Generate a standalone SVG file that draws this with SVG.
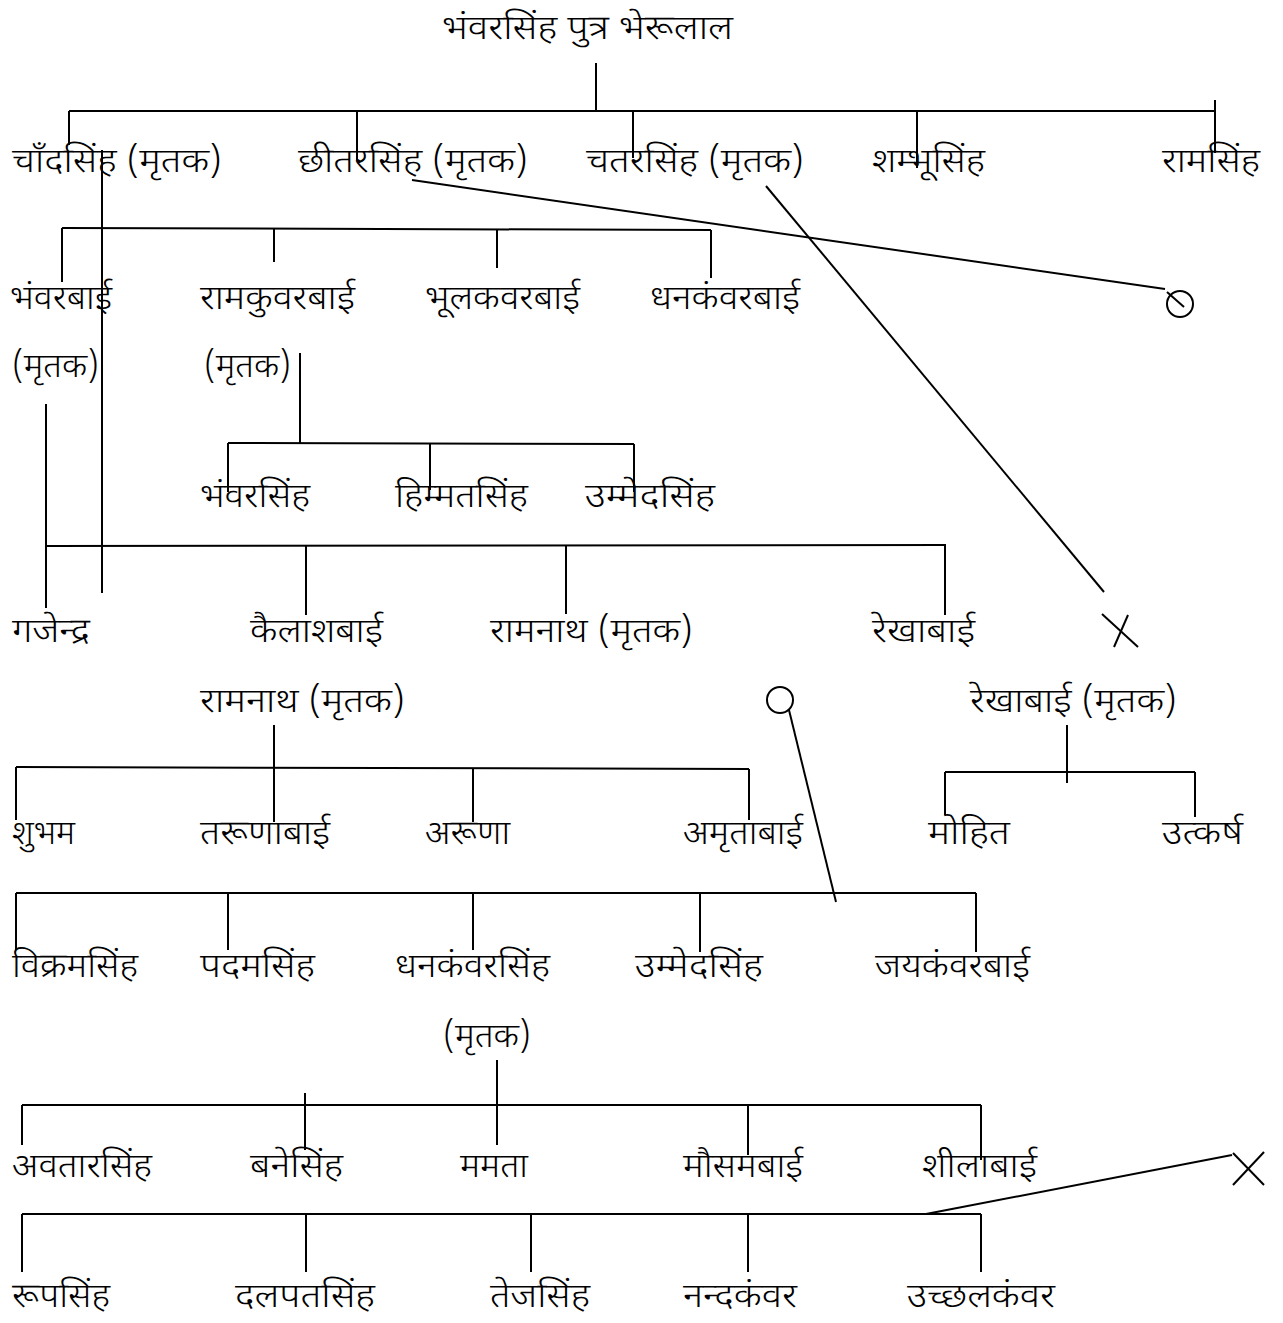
<svg xmlns="http://www.w3.org/2000/svg" width="1283" height="1323" viewBox="0 0 1283 1323">
<style>
text{font-family:"Noto Sans Devanagari","Noto Sans","Liberation Sans",sans-serif;font-size:34px;font-weight:300;fill:#000}
.c line,.c circle{stroke:#000;stroke-width:2;fill:none}
</style>
<rect width="1283" height="1323" fill="#fff"/>
<g class="c" id="connectors">
<line x1="596" y1="63" x2="596" y2="112"/>
<line x1="69" y1="111" x2="1216" y2="111"/>
<line x1="69" y1="111" x2="69" y2="145"/>
<line x1="357" y1="111" x2="357" y2="160"/>
<line x1="633" y1="111" x2="633" y2="158"/>
<line x1="917" y1="111" x2="917" y2="168"/>
<line x1="1215" y1="100" x2="1215" y2="153"/>
<line x1="102" y1="150" x2="102" y2="593"/>
<line x1="412" y1="180" x2="1165" y2="289"/>
<circle cx="1180" cy="304" r="13"/>
<line x1="1167" y1="292" x2="1184" y2="307"/>
<line x1="766" y1="186" x2="1104" y2="592"/>
<line x1="1102" y1="614" x2="1138" y2="647"/>
<line x1="1128" y1="615" x2="1114" y2="647"/>
<line x1="62" y1="228" x2="711" y2="230"/>
<line x1="62" y1="228" x2="62" y2="282"/>
<line x1="274" y1="228" x2="274" y2="262"/>
<line x1="497" y1="229" x2="497" y2="268"/>
<line x1="711" y1="230" x2="711" y2="278"/>
<line x1="300" y1="353" x2="300" y2="443"/>
<line x1="228" y1="443" x2="634" y2="444"/>
<line x1="228" y1="443" x2="228" y2="492"/>
<line x1="430" y1="443" x2="430" y2="490"/>
<line x1="634" y1="444" x2="634" y2="492"/>
<line x1="46" y1="404" x2="46" y2="608"/>
<line x1="46" y1="546" x2="946" y2="545"/>
<line x1="306" y1="546" x2="306" y2="615"/>
<line x1="566" y1="546" x2="566" y2="614"/>
<line x1="945" y1="545" x2="945" y2="615"/>
<line x1="274" y1="725" x2="274" y2="822"/>
<line x1="16" y1="767" x2="749" y2="769"/>
<line x1="16" y1="767" x2="16" y2="820"/>
<line x1="473" y1="768" x2="473" y2="822"/>
<line x1="749" y1="769" x2="749" y2="820"/>
<circle cx="780" cy="700" r="13"/>
<line x1="789" y1="710" x2="836" y2="902"/>
<line x1="1067" y1="725" x2="1067" y2="783"/>
<line x1="945" y1="772" x2="1195" y2="772"/>
<line x1="945" y1="772" x2="945" y2="815"/>
<line x1="1195" y1="772" x2="1195" y2="817"/>
<line x1="16" y1="893" x2="976" y2="893"/>
<line x1="16" y1="893" x2="16" y2="950"/>
<line x1="228" y1="893" x2="228" y2="950"/>
<line x1="473" y1="893" x2="473" y2="950"/>
<line x1="700" y1="893" x2="700" y2="952"/>
<line x1="976" y1="893" x2="976" y2="952"/>
<line x1="497" y1="1060" x2="497" y2="1145"/>
<line x1="22" y1="1105" x2="981" y2="1105"/>
<line x1="305" y1="1093" x2="305" y2="1150"/>
<line x1="22" y1="1105" x2="22" y2="1145"/>
<line x1="748" y1="1105" x2="748" y2="1155"/>
<line x1="981" y1="1105" x2="981" y2="1160"/>
<line x1="22" y1="1214" x2="981" y2="1214"/>
<line x1="22" y1="1214" x2="22" y2="1272"/>
<line x1="306" y1="1214" x2="306" y2="1272"/>
<line x1="531" y1="1214" x2="531" y2="1272"/>
<line x1="748" y1="1214" x2="748" y2="1272"/>
<line x1="981" y1="1214" x2="981" y2="1272"/>
<line x1="926" y1="1214" x2="1232" y2="1155"/>
<line x1="1233" y1="1153" x2="1264" y2="1185"/>
<line x1="1264" y1="1152" x2="1233" y2="1185"/>
</g>
<g id="n-title"><text x="442" y="39" textLength="291" lengthAdjust="spacingAndGlyphs">भंवरसिंह पुत्र भेरूलाल</text></g>
<g id="n-chandsingh"><text x="12" y="172" textLength="210" lengthAdjust="spacingAndGlyphs">चाँदसिंह (मृतक)</text></g>
<g id="n-chhitarsingh"><text x="298" y="172" textLength="230" lengthAdjust="spacingAndGlyphs">छीतरसिंह (मृतक)</text></g>
<g id="n-chatarsingh"><text x="586" y="172" textLength="218" lengthAdjust="spacingAndGlyphs">चतरसिंह (मृतक)</text></g>
<g id="n-shambhusingh"><text x="872" y="172" textLength="113" lengthAdjust="spacingAndGlyphs">शम्भूसिंह</text></g>
<g id="n-ramsingh"><text x="1162" y="172" textLength="98" lengthAdjust="spacingAndGlyphs">रामसिंह</text></g>
<g id="n-bhanwarbai"><text x="10" y="309" textLength="102" lengthAdjust="spacingAndGlyphs">भंवरबाई</text><text x="12" y="377" textLength="87" lengthAdjust="spacingAndGlyphs">(मृतक)</text></g>
<g id="n-ramkuwarbai"><text x="200" y="309" textLength="155" lengthAdjust="spacingAndGlyphs">रामकुवरबाई</text><text x="204" y="377" textLength="87" lengthAdjust="spacingAndGlyphs">(मृतक)</text></g>
<g id="n-bhoolkawarbai"><text x="425" y="309" textLength="155" lengthAdjust="spacingAndGlyphs">भूलकवरबाई</text></g>
<g id="n-dhankanwarbai"><text x="650" y="309" textLength="150" lengthAdjust="spacingAndGlyphs">धनकंवरबाई</text></g>
<g id="n-bhanwarsingh2"><text x="200" y="507" textLength="110" lengthAdjust="spacingAndGlyphs">भंवरसिंह</text></g>
<g id="n-himmatsingh"><text x="395" y="507" textLength="133" lengthAdjust="spacingAndGlyphs">हिम्मतसिंह</text></g>
<g id="n-ummedsingh"><text x="585" y="507" textLength="130" lengthAdjust="spacingAndGlyphs">उम्मेदसिंह</text></g>
<g id="n-gajendra"><text x="12" y="642" textLength="78" lengthAdjust="spacingAndGlyphs">गजेन्द्र</text></g>
<g id="n-kailashbai"><text x="250" y="642" textLength="133" lengthAdjust="spacingAndGlyphs">कैलाशबाई</text></g>
<g id="n-ramnath"><text x="490" y="642" textLength="203" lengthAdjust="spacingAndGlyphs">रामनाथ (मृतक)</text></g>
<g id="n-rekhabai"><text x="872" y="642" textLength="103" lengthAdjust="spacingAndGlyphs">रेखाबाई</text></g>
<g id="n-ramnath2"><text x="200" y="712" textLength="205" lengthAdjust="spacingAndGlyphs">रामनाथ (मृतक)</text></g>
<g id="n-rekhabai2"><text x="970" y="712" textLength="207" lengthAdjust="spacingAndGlyphs">रेखाबाई (मृतक)</text></g>
<g id="n-shubham"><text x="12" y="844" textLength="63" lengthAdjust="spacingAndGlyphs">शुभम</text></g>
<g id="n-tarunabai"><text x="200" y="844" textLength="130" lengthAdjust="spacingAndGlyphs">तरूणाबाई</text></g>
<g id="n-aruna"><text x="425" y="844" textLength="85" lengthAdjust="spacingAndGlyphs">अरूणा</text></g>
<g id="n-amritabai"><text x="683" y="844" textLength="120" lengthAdjust="spacingAndGlyphs">अमृताबाई</text></g>
<g id="n-mohit"><text x="928" y="844" textLength="82" lengthAdjust="spacingAndGlyphs">मोहित</text></g>
<g id="n-utkarsh"><text x="1162" y="844" textLength="81" lengthAdjust="spacingAndGlyphs">उत्कर्ष</text></g>
<g id="n-vikramsingh"><text x="12" y="977" textLength="126" lengthAdjust="spacingAndGlyphs">विक्रमसिंह</text></g>
<g id="n-padamsingh"><text x="200" y="977" textLength="115" lengthAdjust="spacingAndGlyphs">पदमसिंह</text></g>
<g id="n-dhankanwarsingh"><text x="395" y="977" textLength="155" lengthAdjust="spacingAndGlyphs">धनकंवरसिंह</text><text x="443" y="1047" textLength="88" lengthAdjust="spacingAndGlyphs">(मृतक)</text></g>
<g id="n-ummedsingh2"><text x="635" y="977" textLength="128" lengthAdjust="spacingAndGlyphs">उम्मेदसिंह</text></g>
<g id="n-jaykanwarbai"><text x="875" y="977" textLength="155" lengthAdjust="spacingAndGlyphs">जयकंवरबाई</text></g>
<g id="n-avtarsingh"><text x="12" y="1177" textLength="140" lengthAdjust="spacingAndGlyphs">अवतारसिंह</text></g>
<g id="n-banesingh"><text x="250" y="1177" textLength="93" lengthAdjust="spacingAndGlyphs">बनेसिंह</text></g>
<g id="n-mamta"><text x="460" y="1177" textLength="68" lengthAdjust="spacingAndGlyphs">ममता</text></g>
<g id="n-mausambai"><text x="683" y="1177" textLength="120" lengthAdjust="spacingAndGlyphs">मौसमबाई</text></g>
<g id="n-sheelabai"><text x="922" y="1177" textLength="115" lengthAdjust="spacingAndGlyphs">शीलाबाई</text></g>
<g id="n-roopsingh"><text x="12" y="1307" textLength="98" lengthAdjust="spacingAndGlyphs">रूपसिंह</text></g>
<g id="n-dalpatsingh"><text x="235" y="1307" textLength="140" lengthAdjust="spacingAndGlyphs">दलपतसिंह</text></g>
<g id="n-tejsingh"><text x="490" y="1307" textLength="100" lengthAdjust="spacingAndGlyphs">तेजसिंह</text></g>
<g id="n-nandkanwar"><text x="683" y="1307" textLength="114" lengthAdjust="spacingAndGlyphs">नन्दकंवर</text></g>
<g id="n-uchhalkanwar"><text x="907" y="1307" textLength="148" lengthAdjust="spacingAndGlyphs">उच्छलकंवर</text></g>
</svg>
